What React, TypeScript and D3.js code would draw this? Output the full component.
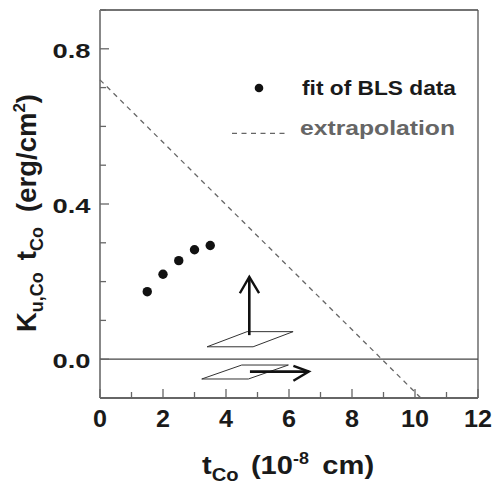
import React from 'react';
import * as d3 from 'd3';

const W = 495;
const H = 485;

// data
const tCo = [1.5, 2.0, 2.5, 3.0, 3.5];
const kuTCo = [0.174, 0.219, 0.254, 0.282, 0.293];
const extrapT = [0, 10.25];
const extrapK = [0.72, -0.105];

const xDomain = [0, 12];
const yDomain = [-0.1, 0.9];
const xTickValues = [0, 1, 2, 3, 4, 5, 6, 7, 8, 9, 10, 11, 12];
const xTickLabels = ['0', '2', '4', '6', '8', '10', '12'];
const yTickValues = [-0.1, 0, 0.1, 0.2, 0.3, 0.4, 0.5, 0.6, 0.7, 0.8, 0.9];
const yTickLabels = ['0.0', '0.4', '0.8'];
const legendLabels = ['fit of BLS data', 'extrapolation'];

// inset sketch (magnetisation directions), in data units
const upperPlate = [[3.40, 0.032], [4.86, 0.032], [6.13, 0.071], [4.67, 0.071]];
const lowerPlate = [[3.23, -0.051], [4.71, -0.051], [5.98, -0.015], [4.50, -0.015]];
const upShaft = [[4.74, 0.062], [4.74, 0.212]];
const upHead = [[4.44, 0.170], [4.74, 0.212], [5.05, 0.170]];
const rightShaft = [[4.76, -0.032], [6.63, -0.032]];
const rightHead = [[6.14, -0.0175], [6.63, -0.032], [6.14, -0.0555]];

const FONT = '"Liberation Sans", Arial, Helvetica, sans-serif';

export default function App() {
  const left = 100, right = 478, top = 10, bottom = 398;
  const x = d3.scaleLinear().domain(xDomain).range([left, right]);
  const y = d3.scaleLinear().domain(yDomain).range([bottom, top]);
  const line = d3.line<number[]>().x(d => x(d[0])).y(d => y(d[1]));
  const extrap = extrapT.map((t, i) => [t, extrapK[i]]);

  return (
    <svg width={W} height={H} style={{ position: 'absolute', left: 0, top: 0, background: '#fff' }}
      fontFamily={FONT} fontWeight="bold">
      {/* frame */}
      <line x1={left} x2={right} y1={top} y2={top} stroke="#444" strokeWidth={1.3} />
      <line x1={right} x2={right} y1={top} y2={bottom} stroke="#555" strokeWidth={1.3} />
      <line x1={left} x2={left} y1={top} y2={bottom} stroke="#888" strokeWidth={2} />
      <line x1={left} x2={right} y1={bottom} y2={bottom} stroke="#666" strokeWidth={1.8} />
      {/* zero line */}
      <line x1={left} x2={right} y1={y(0)} y2={y(0)} stroke="#444" strokeWidth={1.2} />

      {/* x ticks */}
      {xTickValues.map(v => (
        <line key={'xt' + v} x1={x(v)} x2={x(v)} y1={bottom} y2={bottom - (v % 2 === 0 ? 9 : 6)}
          stroke="#666" strokeWidth={1.3} />
      ))}
      {xTickLabels.map(s => (
        <text key={'xl' + s} x={x(+s)} y={427} textAnchor="middle" fontSize={24} fill="#1a1a1a"
          textLength={s.length * 14} lengthAdjust="spacingAndGlyphs">{s}</text>
      ))}

      {/* y ticks */}
      {yTickValues.map(v => {
        const major = Math.abs(v % 0.4) < 1e-6 || Math.abs((v % 0.4) - 0.4) < 1e-6;
        return (
          <line key={'yt' + v} x1={left} x2={left + (major ? 9 : 6)} y1={y(v)} y2={y(v)}
            stroke="#666" strokeWidth={1.3} />
        );
      })}
      {yTickLabels.map(s => (
        <text key={'yl' + s} x={90.5} y={y(+s) + 9} textAnchor="end" fontSize={20.5} fill="#1a1a1a"
          textLength={38} lengthAdjust="spacingAndGlyphs">{s}</text>
      ))}

      {/* extrapolation */}
      <path d={line(extrap) || ''} fill="none" stroke="#666" strokeWidth={1.3} strokeDasharray="5,4.5" />

      {/* data points */}
      {tCo.map((t, i) => (
        <circle key={'p' + i} cx={x(t)} cy={y(kuTCo[i])} r={4.7} fill="#111" />
      ))}

      {/* inset sketch */}
      <path d={(line(upperPlate as number[][]) || '') + 'Z'} fill="none" stroke="#333" strokeWidth={1} />
      <path d={(line(lowerPlate as number[][]) || '') + 'Z'} fill="none" stroke="#333" strokeWidth={1} />
      <path d={line(upShaft as number[][]) || ''} fill="none" stroke="#111" strokeWidth={2.6} />
      <path d={line(upHead as number[][]) || ''} fill="none" stroke="#111" strokeWidth={2.4} strokeLinejoin="miter" />
      <path d={line(rightShaft as number[][]) || ''} fill="none" stroke="#111" strokeWidth={2.6} />
      <path d={line(rightHead as number[][]) || ''} fill="none" stroke="#111" strokeWidth={2.4} strokeLinejoin="miter" />

      {/* legend */}
      <circle cx={259} cy={88} r={4.3} fill="#111" />
      <text x={302} y={94.5} fontSize={20.5} fill="#1a1a1a" textLength={154} lengthAdjust="spacingAndGlyphs">{legendLabels[0]}</text>
      <line x1={232} x2={289} y1={133.3} y2={133.3} stroke="#666" strokeWidth={1.3} strokeDasharray="5,4.5" />
      <text x={300} y={135} fontSize={20.5} fill="#666" textLength={155} lengthAdjust="spacingAndGlyphs">{legendLabels[1]}</text>

      {/* x title */}
      <text transform="translate(202,474) scale(1.12,1)" fontSize={26} fill="#1a1a1a">
        t<tspan fontSize={18} dy={7}>Co</tspan>
        <tspan dy={-7} dx={11}>(10</tspan>
        <tspan fontSize={16} dy={-10}>-8</tspan>
        <tspan dy={10} dx={12}>cm)</tspan>
      </text>

      {/* y title */}
      <text transform="translate(36,332) rotate(-90)" fontSize={27.5} fill="#1a1a1a">
        K<tspan fontSize={18} dy={7}>u,Co</tspan>
        <tspan dy={-7} dx={12}>t</tspan>
        <tspan fontSize={18} dy={7}>Co</tspan>
        <tspan dy={-7} dx={15}>(erg/cm</tspan>
        <tspan fontSize={17} dy={-11}>2</tspan>
        <tspan dy={11}>)</tspan>
      </text>
    </svg>
  );
}
